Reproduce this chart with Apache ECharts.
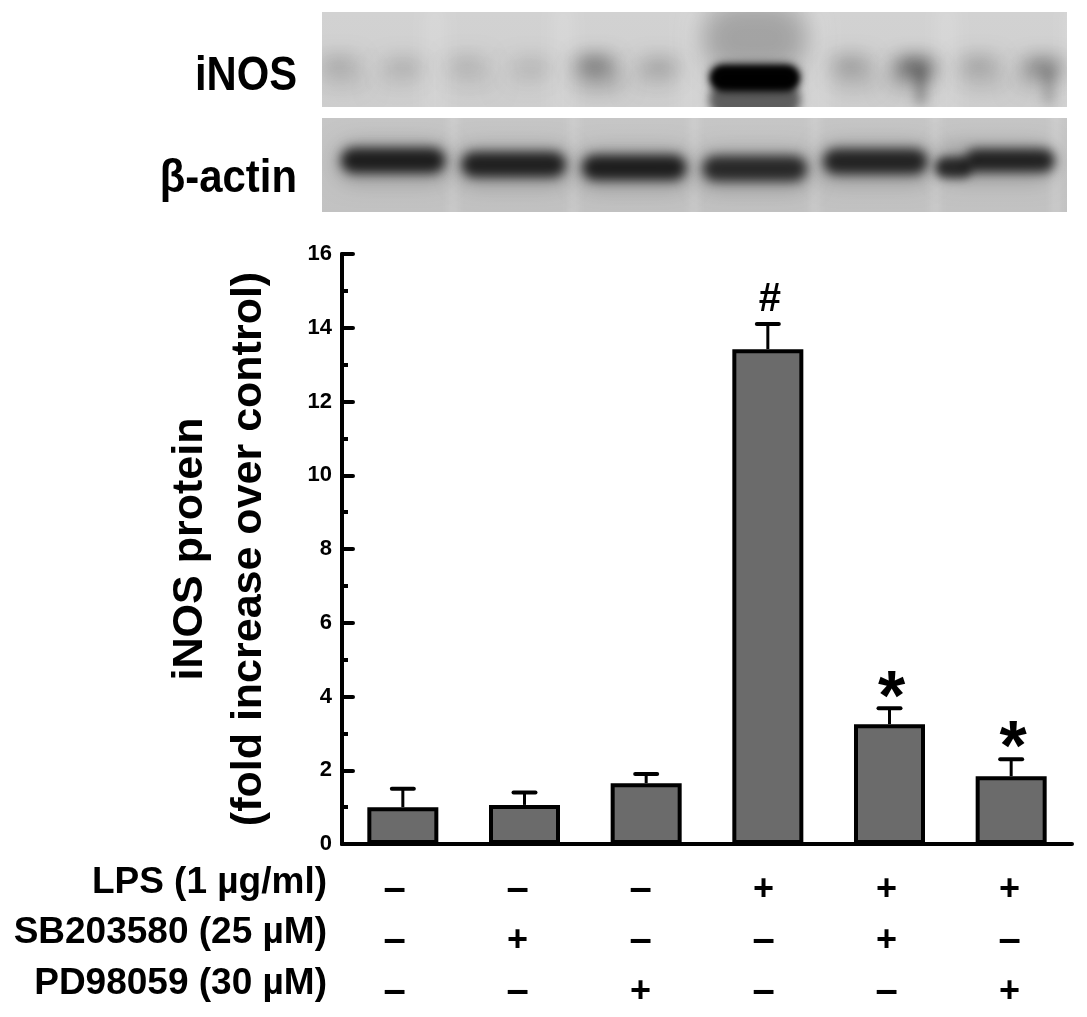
<!DOCTYPE html>
<html>
<head>
<meta charset="utf-8">
<style>html,body{margin:0;padding:0;background:#fff}#chart{width:1087px;height:1017px}</style>
<script src="https://cdn.jsdelivr.net/npm/echarts@6/dist/echarts.min.js"></script>
</head>
<body>
<div id="chart"></div>
<script>
// bar chart values
var groups = ['1', '2', '3', '4', '5', '6'];
var means = [1.0, 1.06, 1.65, 13.42, 3.25, 1.84];
var errorTops = [1.5, 1.4, 1.9, 14.1, 3.68, 2.3];
var marks = ['', '', '', '#', '*', '*'];
var yTicks = ['0', '2', '4', '6', '8', '10', '12', '14', '16'];

// treatment table under the bars
var rowNames = ['LPS (1 µg/ml)', 'SB203580 (25 µM)', 'PD98059 (30 µM)'];
var lpsSigns = ['–', '–', '–', '+', '+', '+'];
var sbSigns = ['–', '+', '–', '–', '+', '–'];
var pdSigns = ['–', '–', '+', '–', '–', '+'];

// blot band darkness per lane (0 - 1)
var inosLeft = [0.24, 0.18, 0.55, 1, 0.32, 0.28];
var inosRight = [0.2, 0.16, 0.28, 1, 0.75, 0.5];
var actinBand = [0.92, 0.9, 0.92, 0.84, 0.88, 0.9];

var font = '"Liberation Sans", Arial, sans-serif';
var chart = echarts.init(document.getElementById('chart'));

// blurred patch: the shape sits off the canvas and only its shadow lands here
function soft(x, y, w, h, blur, alpha, color) {
    var c = color || '0,0,0';
    return {
        type: 'rect',
        shape: {x: x - w / 2 - 3000, y: y - h / 2, width: w, height: h, r: Math.min(w, h) / 2},
        style: {fill: '#000', shadowColor: 'rgba(' + c + ',' + alpha + ')', shadowBlur: blur, shadowOffsetX: 3000}
    };
}

function blotBackground(top, bottom) {
    return function (params, api) {
        var c = params.coordSys;
        return {
            type: 'rect',
            shape: {x: c.x, y: c.y, width: c.width, height: c.height},
            style: {
                fill: new echarts.graphic.LinearGradient(0, 0, 0, 1, [
                    {offset: 0, color: top},
                    {offset: 1, color: bottom}
                ])
            }
        };
    };
}

function renderInos(params, api) {
    var lane = api.value(0);
    var p = api.coord([lane, 0.36]);
    var left = api.value(1), right = api.value(2);
    var kids = [soft(p[0] + 64, p[1], 14, 140, 18, 0.2, '255,255,255')];
    if (left === 1) {
        // the heavy band, with its smear above and below
        kids.push(soft(p[0], p[1] - 35, 106, 70, 26, 0.22));
        kids.push(soft(p[0], p[1] + 27, 92, 34, 8, 0.55));
        kids.push(soft(p[0], p[1] + 5, 90, 26, 10, 1));
        kids.push(soft(p[0], p[1] + 5, 86, 21, 6, 1));
    } else {
        kids.push(soft(p[0] - 32, p[1] - 8, 38, 14, 20, left));
        kids.push(soft(p[0] + 32, p[1] - 6, 38, 14, 20, right));
        kids.push(soft(p[0] - 28, p[1] + 8, 48, 18, 22, left * 0.4));
        kids.push(soft(p[0] + 28, p[1] + 8, 48, 18, 22, right * 0.25));
        if (right > 0.4) kids.push(soft(p[0] + 38, p[1] + 14, 10, 38, 12, right * 0.4));
    }
    return {type: 'group', children: kids};
}

function renderActin(params, api) {
    var lane = api.value(0);
    var p = api.coord([lane, 0.42]);
    var a = api.value(1);
    var lift = [-12, -8, -5, -4, -11, 0][lane];
    var y = p[1] + lift;
    var kids = [soft(p[0] + 60, p[1] - 10, 6, 140, 8, 0.2, '255,255,255')];
    if (lane === 5) {
        // this lane runs uphill to the right
        kids.push(soft(p[0] - 42, y - 5, 38, 21, 10, a * 0.85));
        kids.push(soft(p[0] + 14, y - 12, 90, 23, 11, a * 0.88));
        kids.push(soft(p[0], y - 10, 116, 36, 22, 0.22));
    } else {
        kids.push(soft(p[0], y + 2, 114, 38, 22, 0.24));
        kids.push(soft(p[0], y, 104, 25, 11, a * 0.88));
    }
    return {type: 'group', children: kids};
}

function renderError(params, api) {
    var i = api.value(0);
    var base = api.coord([i, api.value(1)]);
    var top = api.coord([i, api.value(2)]);
    var mark = marks[i];
    var kids = [
        {type: 'line', shape: {x1: base[0], y1: base[1], x2: top[0], y2: top[1]},
            style: {stroke: '#000', lineWidth: 3}},
        {type: 'line', shape: {x1: top[0] - 11, y1: top[1], x2: top[0] + 11, y2: top[1]},
            style: {stroke: '#000', lineWidth: 4, lineCap: 'round'}}
    ];
    if (mark) {
        kids.push({
            type: 'text', x: top[0] + 2, y: top[1] - (mark === '#' ? 24 : 8),
            style: {
                text: mark, fill: '#000', align: 'center', verticalAlign: 'middle',
                font: (mark === '#' ? 'bold 40px ' : 'bold 70px ') + font
            }
        });
    }
    return {type: 'group', children: kids};
}

function renderSign(params, api) {
    var p = api.coord([api.value(0), api.value(1)]);
    var s = signRows[api.value(1)][api.value(0)];
    return {
        type: 'text', x: p[0], y: p[1],
        style: {
            text: s, fill: '#000', align: 'center', verticalAlign: 'middle',
            font: 'bold ' + (s === '+' ? 36 : 40) + 'px ' + font
        }
    };
}

var signRows = [lpsSigns, sbSigns, pdSigns];
var signData = [];
signRows.forEach(function (row, r) {
    row.forEach(function (s, c) { signData.push([c, r]); });
});

var hiddenAxis = {show: false, axisLine: {show: false}, axisTick: {show: false}, axisLabel: {show: false}, splitLine: {show: false}};

var option = {
    animation: false,
    backgroundColor: '#fff',
    textStyle: {fontFamily: font},
    grid: [
        {left: 342, top: 254, width: 730, height: 590},
        {left: 322, top: 12, width: 745, height: 95},
        {left: 322, top: 118, width: 745, height: 94},
        {left: 333, top: 865, width: 738, height: 156}
    ],
    xAxis: [
        {
            type: 'category', gridIndex: 0, data: groups,
            axisLine: {show: true, lineStyle: {color: '#000', width: 4, cap: 'round'}},
            axisTick: {show: false}, axisLabel: {show: false}
        },
        Object.assign({type: 'value', gridIndex: 1, min: -0.383, max: 5.44}, hiddenAxis),
        Object.assign({type: 'value', gridIndex: 2, min: -0.589, max: 5.59}, hiddenAxis),
        Object.assign({type: 'category', gridIndex: 3, data: groups}, hiddenAxis)
    ],
    yAxis: [
        {
            type: 'value', gridIndex: 0, min: 0, max: 16, interval: 2,
            name: 'iNOS protein\n(fold increase over control)',
            nameLocation: 'middle', nameRotate: 90, nameGap: 63,
            nameTextStyle: {fontFamily: font, fontWeight: 'bold', fontSize: 43, lineHeight: 59, color: '#000'},
            axisLine: {show: true, lineStyle: {color: '#000', width: 4, cap: 'round'}},
            axisTick: {show: true, inside: true, length: 11, lineStyle: {color: '#000', width: 4, cap: 'round'}},
            minorTick: {show: true, splitNumber: 2, length: 6, lineStyle: {color: '#000', width: 4}},
            splitLine: {show: false},
            axisLabel: {
                margin: 10, color: '#000', fontFamily: font, fontWeight: 'bold', fontSize: 22,
                formatter: function (v) { return yTicks[v / 2]; }
            }
        },
        Object.assign({type: 'value', gridIndex: 1, min: 0, max: 1}, hiddenAxis),
        Object.assign({type: 'value', gridIndex: 2, min: 0, max: 1}, hiddenAxis),
        {
            type: 'category', gridIndex: 3, data: rowNames, inverse: true,
            axisLine: {show: false}, axisTick: {show: false},
            axisLabel: {
                margin: 6, color: '#000', fontFamily: font, fontWeight: 'bold', fontSize: 37,
                verticalAlign: 'bottom', lineHeight: 16
            }
        }
    ],
    series: [
        {
            type: 'custom', xAxisIndex: 1, yAxisIndex: 1, data: [[0]], silent: true, z: 1,
            renderItem: blotBackground('#d2d2d2', '#cfcfcf')
        },
        {
            type: 'custom', xAxisIndex: 1, yAxisIndex: 1, silent: true, z: 2, clip: true,
            data: groups.map(function (g, i) { return [i, inosLeft[i], inosRight[i]]; }),
            renderItem: renderInos
        },
        {
            type: 'custom', xAxisIndex: 2, yAxisIndex: 2, data: [[0]], silent: true, z: 1,
            renderItem: blotBackground('#c6c6c6', '#c2c2c2')
        },
        {
            type: 'custom', xAxisIndex: 2, yAxisIndex: 2, silent: true, z: 2, clip: true,
            data: groups.map(function (g, i) { return [i, actinBand[i]]; }),
            renderItem: renderActin
        },
        {
            type: 'custom', xAxisIndex: 0, yAxisIndex: 0, silent: true, z: 1,
            data: groups.map(function (g, i) { return [i, means[i], errorTops[i]]; }),
            renderItem: renderError
        },
        {
            type: 'bar', xAxisIndex: 0, yAxisIndex: 0, data: means, barWidth: 71, silent: true, z: 2,
            itemStyle: {color: '#6b6b6b', borderColor: '#000', borderWidth: 4}
        },
        {
            type: 'custom', xAxisIndex: 3, yAxisIndex: 3, silent: true, z: 2,
            data: signData, renderItem: renderSign
        }
    ],
    graphic: [
        {type: 'text', x: 297, y: 77, scaleX: 0.87, style: {text: 'iNOS', fill: '#000', align: 'right', verticalAlign: 'middle', font: 'bold 48px ' + font}},
        {type: 'text', x: 297, y: 179, scaleX: 0.91, style: {text: 'β-actin', fill: '#000', align: 'right', verticalAlign: 'middle', font: 'bold 46px ' + font}}
    ]
};
chart.setOption(option);
window.addEventListener('resize', function () { chart.resize(); });
</script>
</body>
</html>
